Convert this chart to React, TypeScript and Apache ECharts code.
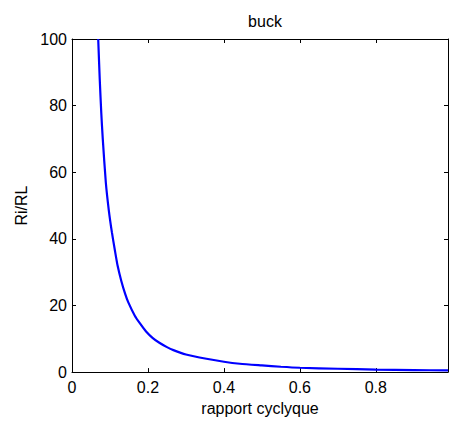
import React, { useEffect, useRef } from "react";
import * as echarts from "echarts";

const dutyCycle = [0.069, 0.073, 0.077, 0.081, 0.089, 0.097, 0.105, 0.113, 0.12, 0.13, 0.14, 0.148, 0.165, 0.179, 0.195, 0.212, 0.23, 0.25, 0.267, 0.3, 0.354, 0.4, 0.442, 0.5, 0.55, 0.6, 0.7, 0.8, 0.9, 0.99];
const ratio = [100, 88, 78, 70, 57, 48.5, 42, 36.5, 32, 27.3, 23.5, 21, 17, 14.6, 12.2, 10.3, 8.8, 7.5, 6.6, 5.3, 4.0, 3.1, 2.5, 2.0, 1.6, 1.3, 1.0, 0.75, 0.6, 0.5];
const xTicks = [0, 0.2, 0.4, 0.6, 0.8];
const yTicks = [0, 20, 40, 60, 80, 100];

export default function App() {
  const ref = useRef<HTMLDivElement>(null);
  useEffect(() => {
    if (!ref.current) return;
    const chart = echarts.init(ref.current, null, { renderer: "svg" });
    const font = "'Liberation Sans', Arial, sans-serif";
    const axisLine = { show: true, onZero: false, lineStyle: { color: "#000", width: 1 } };
    const tick = (vals: number[]) => ({ inside: true, length: 4, customValues: vals, lineStyle: { color: "#000" } });
    chart.setOption({
      animation: false,
      backgroundColor: "#fff",
      title: {
        text: "buck",
        left: 260,
        textAlign: "center",
        top: 8,
        textStyle: { fontFamily: font, fontSize: 16, fontWeight: "normal", color: "#000" },
      },
      grid: { left: 72, top: 39, width: 376, height: 335 },
      xAxis: [
        {
          type: "value",
          min: 0,
          max: 0.99,
          position: "bottom",
          name: "rapport cyclyque",
          nameLocation: "middle",
          nameGap: 27,
          nameTextStyle: { fontFamily: font, fontSize: 16, color: "#000" },
          axisLine,
          splitLine: { show: false },
          axisTick: tick(xTicks),
          axisLabel: { customValues: xTicks, margin: 7, fontFamily: font, fontSize: 16, color: "#000" },
        },
        {
          type: "value",
          min: 0,
          max: 0.99,
          position: "top",
          axisLine,
          splitLine: { show: false },
          axisTick: tick(xTicks),
          axisLabel: { show: false },
        },
      ],
      yAxis: [
        {
          type: "value",
          min: 0,
          max: 100,
          interval: 20,
          position: "left",
          name: "Ri/RL",
          nameLocation: "middle",
          nameGap: 42,
          nameTextStyle: { fontFamily: font, fontSize: 16, color: "#000" },
          axisLine,
          splitLine: { show: false },
          axisTick: tick(yTicks),
          axisLabel: { customValues: yTicks, margin: 5, fontFamily: font, fontSize: 16, color: "#000" },
        },
        {
          type: "value",
          min: 0,
          max: 100,
          interval: 20,
          position: "right",
          axisLine,
          splitLine: { show: false },
          axisTick: tick(yTicks),
          axisLabel: { show: false },
        },
      ],
      series: [
        {
          type: "line",
          data: dutyCycle.map((d, i) => [d, ratio[i]]),
          showSymbol: false,
          smooth: 0.2,
          clip: true,
          lineStyle: { color: "#0000ff", width: 2.2 },
        },
      ],
    });
    return () => chart.dispose();
  }, []);
  return <div ref={ref} style={{ width: 449, height: 421, position: "absolute", left: 0, top: 0 }} />;
}
